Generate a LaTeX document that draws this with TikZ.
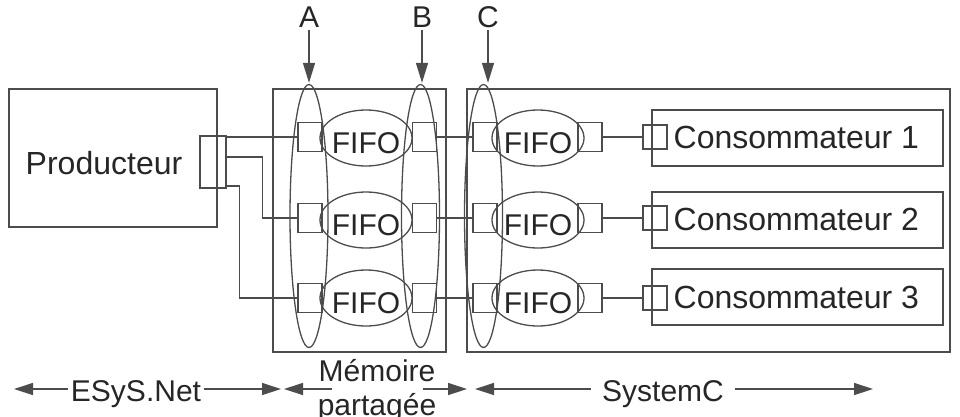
\documentclass[tikz,border=0pt]{standalone}
\usepackage{fontspec}
\setmainfont{Liberation Sans}
\usetikzlibrary{shapes.geometric,arrows.meta,positioning,calc}

\begin{document}
\begin{tikzpicture}[x=1pt, y=-1pt, line width=1.3pt,
  box/.style={draw=black!70, rectangle, inner sep=0pt},
  port/.style={box, minimum width=24pt, minimum height=29pt},
  cport/.style={box, minimum width=24pt, minimum height=24pt},
  consumer/.style={box, minimum width=291pt, minimum height=56pt},
  fifo/.style={draw=black!70, ellipse, inner sep=0pt, minimum width=92pt, minimum height=56pt},
  group/.style={draw=black!70, ellipse, inner sep=0pt, minimum width=38pt, minimum height=263pt},
  txt/.style={text=black!85, font=\fontsize{30}{34}\selectfont, inner sep=2pt},
  bigtxt/.style={txt, font=\fontsize{32}{36}\selectfont},
  wire/.style={draw=black!70},
  ptr/.style={draw=black!70, -{Triangle[length=20pt,width=12pt]}, shorten >=1pt},
  span/.style={draw=black!70, -{Triangle[length=19pt,width=12pt]}}
]
\useasboundingbox (0,0) rectangle (960,416);

% containers
\node[box, minimum width=208pt, minimum height=138pt] (prod) at (113,158) {};
\node[bigtxt] (prodtxt) at (104,163) {Producteur};
\node[box, minimum width=26pt, minimum height=52pt] (pport) at (213,162) {};
\node[box, minimum width=173pt, minimum height=263pt] (mem) at (359.5,220.5) {};
\node[box, minimum width=483pt, minimum height=263pt] (sysc) at (708.5,220.5) {};

% shared memory fifos
\node[fifo] (mf1) at (366,138) {};
\node[fifo] (mf2) at (366,220) {};
\node[fifo] (mf3) at (366,298) {};
\node[txt] (mt1) at ([yshift=-5pt]mf1.center) {FIFO};
\node[txt] (mt2) at ([yshift=-5pt]mf2.center) {FIFO};
\node[txt] (mt3) at ([yshift=-5pt]mf3.center) {FIFO};
\node[port] (mi1) at (310,137) {};
\node[port] (mi2) at (310,218) {};
\node[port] (mi3) at (310,298) {};
\node[port] (mo1) at (424.5,137) {};
\node[port] (mo2) at (424.5,218) {};
\node[port] (mo3) at (424.5,298) {};

% systemc fifos
\node[fifo] (sf1) at (538,138) {};
\node[fifo] (sf2) at (538,220) {};
\node[fifo] (sf3) at (538,298) {};
\node[txt] (st1) at ([yshift=-5pt]sf1.center) {FIFO};
\node[txt] (st2) at ([yshift=-5pt]sf2.center) {FIFO};
\node[txt] (st3) at ([yshift=-5pt]sf3.center) {FIFO};
\node[port] (si1) at (485,137) {};
\node[port] (si2) at (485,218) {};
\node[port] (si3) at (485,298) {};
\node[port] (so1) at (590,137) {};
\node[port] (so2) at (590,218) {};
\node[port] (so3) at (590,298) {};

% consumers
\node[consumer] (c1) at (797.5,138) {};
\node[consumer] (c2) at (797.5,220) {};
\node[consumer] (c3) at (797.5,297) {};
\node[bigtxt, anchor=west] (c1txt) at (671,137) {Consommateur 1};
\node[bigtxt, anchor=west] (c2txt) at (671,219) {Consommateur 2};
\node[bigtxt, anchor=west] (c3txt) at (671,297) {Consommateur 3};
\node[cport] (cp1) at (655,137) {};
\node[cport] (cp2) at (655,218) {};
\node[cport] (cp3) at (655,298) {};

% interface groups A, B, C
\node[group] (ellA) at (309,216) {};
\node[group] (ellB) at (420.5,216) {};
\node[group] (ellC) at (483.5,216) {};
\node[txt] (labA) at (309,17) {A};
\node[txt] (labB) at (422,17) {B};
\node[txt] (labC) at (488,17) {C};
\draw[ptr] (labA.south) -- (labA.south |- ellA.north);
\draw[ptr] (labB.south) -- (labB.south |- ellB.north);
\draw[ptr] (labC.south) -- (labC.south |- ellC.north);

% links
\draw[wire] (pport.east |- mi1) -- (mi1.west);
\draw[wire] ([yshift=5pt]pport.east) -- ++(36,0) |- (mi2.west);
\draw[wire] ([yshift=-24pt]pport.east) -- ++(13,0) |- (mi3.west);
\draw[wire] (mo1) -- (si1);
\draw[wire] (mo2) -- (si2);
\draw[wire] (mo3) -- (si3);
\draw[wire] (so1) -- (cp1);
\draw[wire] (so2) -- (cp2);
\draw[wire] (so3) -- (cp3);

% domains
\node[txt] (esys) at (136,394) {ESyS.Net};
\node[txt, align=center] (memtxt) at (377,391) {Mémoire\\partagée};
\node[txt] (sysctxt) at (663,394) {SystemC};
\coordinate (esysL) at (14,389);
\coordinate (esysR) at (281,389);
\coordinate (memL) at (284,389);
\coordinate (memR) at (467,389);
\coordinate (syscL) at (475,389);
\coordinate (syscR) at (873,389);
\draw[span] (esys.west |- esysL) -- (esysL);
\draw[span] (esys.east |- esysR) -- (esysR);
\draw[span] ($(memtxt.west |- memL)+(17,0)$) -- (memL);
\draw[span] ($(memtxt.east |- memR)+(-16,0)$) -- (memR);
\draw[span] ($(sysctxt.west |- syscL)+(-9,0)$) -- (syscL);
\draw[span] ($(sysctxt.east |- syscR)+(8,0)$) -- (syscR);
\end{tikzpicture}
\end{document}
